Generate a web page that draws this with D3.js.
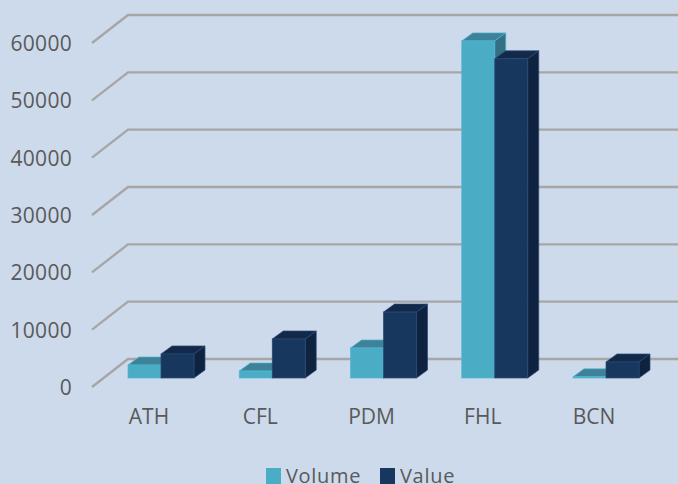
<!DOCTYPE html>
<html>
<head>
<meta charset="utf-8">
<script src="https://cdnjs.cloudflare.com/ajax/libs/d3/7.8.5/d3.min.js"></script>
<style>
  html, body { margin: 0; padding: 0; background: #cddaeb; overflow: hidden; }
  svg { display: block; }
  text { font-family: "Open Sans", sans-serif; fill: #595959; }
</style>
</head>
<body>
<svg id="svg" width="678" height="484"></svg>
<script>
const categories = ['ATH', 'CFL', 'PDM', 'FHL', 'BCN']
const volume = [2270, 1220, 5240, 58800, 200]
const value = [4190, 6800, 11500, 55670, 2790]
const yTicks = [0, 10000, 20000, 30000, 40000, 50000, 60000]
const seriesNames = ['Volume', 'Value']

const width = 678
const height = 484
const svg = d3.select('#svg')

// colours for front, top and side faces
const faces = {
  Volume: { front: '#4bacc6', top: '#3d8299', side: '#346f83', edge: '#52b5cf' },
  Value: { front: '#17375e', top: '#12294a', side: '#0f2340', edge: '#2a4a74' }
}

// front edge of the floor and the shift back to the wall
const yFront = d3.scaleLinear().domain([0, 60000]).range([387, 43])
const wallDx = 36
const wallDy = -28

// bars stand part way into the depth
const yBar = d3.scaleLinear().domain([0, 60000]).range([378, 34])
const depthDx = 11
const depthDy = -8

const xGroup = d3.scaleBand()
  .domain(categories)
  .range([128, 639])
  .paddingInner(0.407)
  .paddingOuter(0)

const xSeries = d3.scaleBand()
  .domain(seriesNames)
  .range([0, xGroup.bandwidth()])

// grid: diagonal on the side wall, then along the back wall
svg.append('g')
  .selectAll('path')
  .data(yTicks)
  .join('path')
  .attr('d', d => `M${92},${yFront(d)}L${92 + wallDx},${yFront(d) + wallDy}H${width}`)
  .attr('fill', 'none')
  .attr('stroke', '#a6a6a6')
  .attr('stroke-width', 2.4)

const rows = categories.map((category, i) => ({
  category,
  bars: [
    { name: 'Volume', v: volume[i] },
    { name: 'Value', v: value[i] }
  ]
}))

const bar = svg.append('g')
  .selectAll('g')
  .data(rows)
  .join('g')
  .attr('transform', d => `translate(${xGroup(d.category)}, 0)`)
  .selectAll('g')
  .data(d => d.bars)
  .join('g')

const w = xSeries.bandwidth()

bar.append('path')
  .attr('d', d => {
    const x = xSeries(d.name)
    const y = yBar(d.v)
    return `M${x},${y}l${depthDx},${depthDy}h${w}l${-depthDx},${-depthDy}Z`
  })
  .attr('fill', d => faces[d.name].top)
  .attr('stroke', d => faces[d.name].edge)
  .attr('stroke-width', 0.7)

bar.append('path')
  .attr('d', d => {
    const x = xSeries(d.name) + w
    const y = yBar(d.v)
    return `M${x},${y}l${depthDx},${depthDy}V${yBar(0) + depthDy}l${-depthDx},${-depthDy}Z`
  })
  .attr('fill', d => faces[d.name].side)
  .attr('stroke', d => faces[d.name].edge)
  .attr('stroke-width', 0.7)

bar.append('rect')
  .attr('x', d => xSeries(d.name))
  .attr('y', d => yBar(d.v))
  .attr('width', w)
  .attr('height', d => yBar(0) - yBar(d.v))
  .attr('fill', d => faces[d.name].front)
  .attr('stroke', d => faces[d.name].edge)
  .attr('stroke-width', 0.7)

// axes, labels only
const yAxis = svg.append('g')
  .attr('transform', 'translate(78, 0)')
  .call(d3.axisLeft(yFront).tickValues(yTicks).tickFormat(d3.format('d')).tickSize(0))
yAxis.select('.domain').remove()
yAxis.selectAll('text')
  .attr('x', -6)
  .attr('dy', '0.36em')
  .style('font-family', '"Open Sans", sans-serif')
  .style('font-size', '21px')
  .style('letter-spacing', '0.3px')
  .style('fill', '#595959')

const xAxis = svg.append('g')
  .attr('transform', 'translate(-12, 409)')
  .call(d3.axisBottom(xGroup).tickSize(0))
xAxis.select('.domain').remove()
xAxis.selectAll('text')
  .attr('y', 0)
  .attr('dy', '0.71em')
  .style('font-family', '"Open Sans", sans-serif')
  .style('font-size', '21px')
  .style('fill', '#595959')

// legend
const legendX = d3.scaleOrdinal().domain(seriesNames).range([266, 380])
const legend = svg.append('g')
  .selectAll('g')
  .data(seriesNames)
  .join('g')
  .attr('transform', d => `translate(${legendX(d)}, 468)`)

legend.append('rect')
  .attr('width', 15)
  .attr('height', 16)
  .attr('fill', d => faces[d].front)

legend.append('text')
  .attr('x', 20)
  .attr('y', 15)
  .style('font-size', '20px')
  .style('letter-spacing', '0.7px')
  .text(d => d)
</script>
</body>
</html>
